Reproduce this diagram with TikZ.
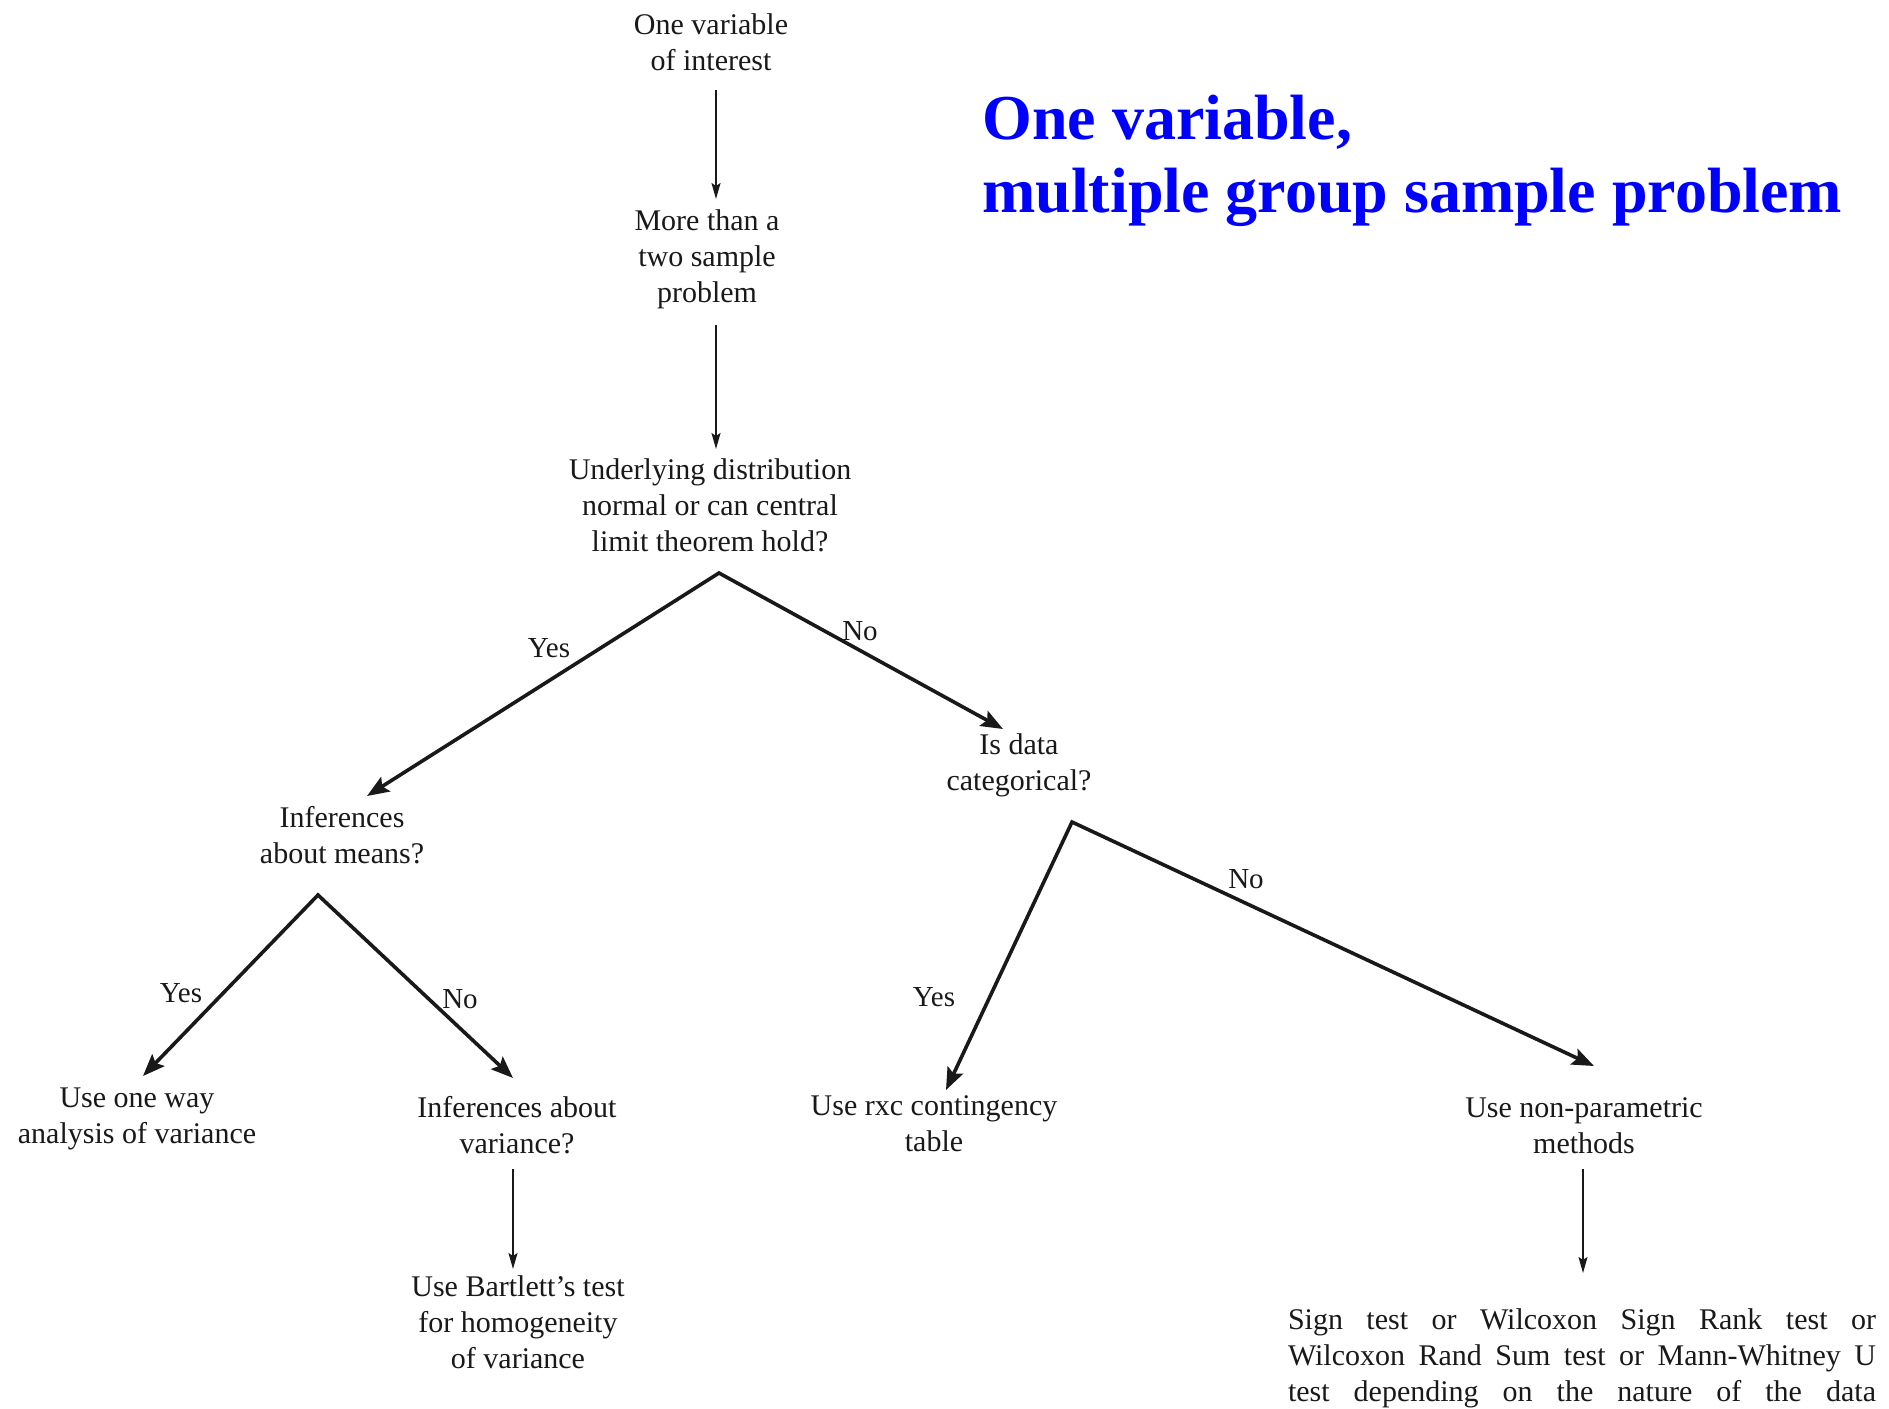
\documentclass[tikz,border=0pt]{standalone}
\usepackage{fontspec}
\setmainfont{Liberation Serif}
\usetikzlibrary{arrows.meta}
\definecolor{titleblue}{RGB}{0,0,255}
\definecolor{ink}{RGB}{25,25,25}
\tikzset{
 txt/.style={font=\fontsize{30}{36}\selectfont, align=center, inner sep=0pt, text=ink},
 lbl/.style={font=\fontsize{29}{34}\selectfont, inner sep=0pt, text=ink},
 ttl/.style={font=\fontsize{64}{73}\selectfont\bfseries, text=titleblue, anchor=base west, inner sep=0pt},
 varrow/.style={draw=ink, line width=1.8pt, -{Stealth[length=16pt,width=9pt,inset=3pt]}},
 darrow/.style={draw=ink, line width=3.6pt, line join=miter, {Stealth[length=22pt,width=17pt,inset=4pt]}-{Stealth[length=22pt,width=17pt,inset=4pt]}},
}
\begin{document}
\begin{tikzpicture}[x=1pt,y=-1pt]
\useasboundingbox[fill=white] (0,0) rectangle (1889,1408);

\node[ttl] (title1) at (982,139) {One variable,};
\node[ttl] (title2) at (982,212) {multiple group sample problem};

\node[txt] (top) at (711,42) {One variable\\of interest};
\node[txt] (more) at (707,259) {More than a\\two sample\\problem};
\node[txt] (under) at (710,505) {Underlying distribution\\normal or can central\\limit theorem hold?};
\node[txt] (cat) at (1019,765) {Is data\\categorical?};
\node[txt] (means) at (342,835) {Inferences\\about means?};
\node[txt] (oneway) at (137,1119) {Use one way\\analysis of variance};
\node[txt] (infvar) at (517,1125) {Inferences about\\variance?};
\node[txt] (bart) at (518,1322) {Use Bartlett's test\\for homogeneity\\of variance};
\node[txt] (rxc) at (934,1124) {Use rxc contingency\\table};
\node[txt] (nonpar) at (1584,1126) {Use non-parametric\\methods};
\node[txt, align=left] (final) at (1582,1358) {%
\makebox[588pt][s]{Sign test or Wilcoxon Sign Rank test or}\\
\makebox[588pt][s]{Wilcoxon Rand Sum test or Mann-Whitney U}\\
\makebox[588pt][s]{test depending on the nature of the data}};

\coordinate (ap1) at (719,573);
\coordinate (ap2) at (318,895);
\coordinate (ap3) at (1072,822);

\draw[varrow] ([shift={(5,48)}]top.center) -- ([shift={(9,-60)}]more.center);
\draw[varrow] ([shift={(9,66)}]more.center) -- ([shift={(6,-56)}]under.center);
\draw[varrow] ([shift={(-4,44)}]infvar.center) -- ([shift={(-5,-53)}]bart.center);
\draw[varrow] ([shift={(-1,43)}]nonpar.center) -- ([shift={(1,-85)}]final.center);

\draw[darrow] ([shift={(25,-39)}]means.center) -- (ap1) -- ([shift={(-16,-36)}]cat.center);
\draw[darrow] ([shift={(6,-43)}]oneway.center) -- (ap2) -- ([shift={(-4,-47)}]infvar.center);
\draw[darrow] ([shift={(12,-34)}]rxc.center) -- (ap3) -- ([shift={(10,-60)}]nonpar.center);

\node[lbl] (y1) at (549,648) {Yes};
\node[lbl] (n1) at (860,631) {No};
\node[lbl] (y2) at (181,993) {Yes};
\node[lbl] (n2) at (460,999) {No};
\node[lbl] (y3) at (934,997) {Yes};
\node[lbl] (n3) at (1246,879) {No};
\end{tikzpicture}
\end{document}
